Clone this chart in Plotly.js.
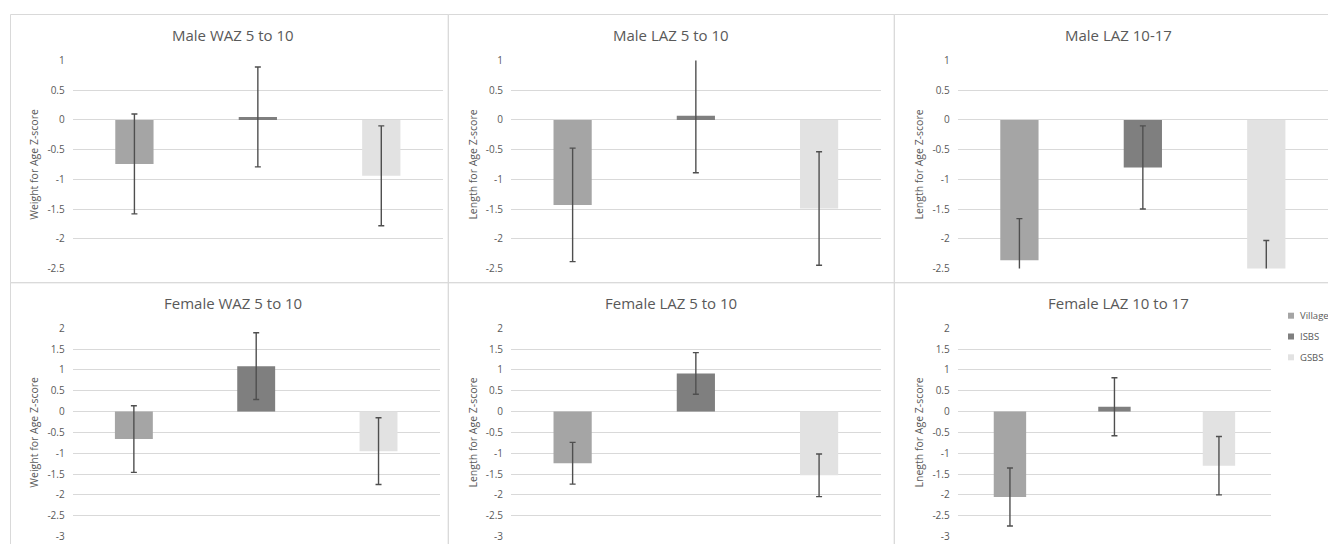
<!DOCTYPE html>
<html>
<head>
<meta charset="utf-8">
<script src="https://cdn.plot.ly/plotly-3.0.1.min.js"></script>
<style>
  html, body { margin: 0; padding: 0; background: #ffffff; }
  #chart { width: 1328px; height: 544px; }
</style>
</head>
<body>
<div id="chart"></div>
<script>
// Groups shown in every panel
const categories = ['Village', 'ISBS', 'GSBS'];
const groupColors = ['#a5a5a5', '#7f7f7f', '#e2e2e2'];

// Panel headings and y-axis titles (row by row)
const panelTitles = ['Male WAZ 5 to 10', 'Male LAZ 5 to 10', 'Male LAZ 10-17',
                     'Female WAZ 5 to 10', 'Female LAZ 5 to 10', 'Female LAZ 10 to 17'];
const yTitles = ['Weight for Age Z-score', 'Length for Age Z-score', 'Length for Age Z-score',
                 'Weight for Age Z-score', 'Length for Age Z-score', 'Lnegth for Age Z-score'];

// Mean z-scores and error half-widths per group
const maleWaz510 = [-0.74, 0.05, -0.94];
const maleWaz510Err = [0.84, 0.84, 0.84];
const maleLaz510 = [-1.43, 0.07, -1.49];
const maleLaz510Err = [0.955, 0.96, 0.955];
const maleLaz1017 = [-2.36, -0.80, -2.73];
const maleLaz1017Err = [0.70, 0.70, 0.70];
const femaleWaz510 = [-0.66, 1.09, -0.95];
const femaleWaz510Err = [0.80, 0.80, 0.80];
const femaleLaz510 = [-1.24, 0.915, -1.53];
const femaleLaz510Err = [0.50, 0.50, 0.51];
const femaleLaz1017 = [-2.05, 0.115, -1.30];
const femaleLaz1017Err = [0.695, 0.695, 0.70];

// Y-axis tick labels
const maleTickVals = [1, 0.5, 0, -0.5, -1, -1.5, -2, -2.5];
const maleTickText = ['1', '0.5', '0', '-0.5', '-1', '-1.5', '-2', '-2.5'];
const femaleTickVals = [2, 1.5, 1, 0.5, 0, -0.5, -1, -1.5, -2, -2.5, -3];
const femaleTickText = ['2', '1.5', '1', '0.5', '0', '-0.5', '-1', '-1.5', '-2', '-2.5', '-3'];

const W = 1328, H = 544;
const px = v => v / W;
const py = v => 1 - v / H;

const textColor = '#595959';
const gridColor = '#d9d9d9';
const font = 'Open Sans, Noto Sans, sans-serif';

// Plot boxes [left, right, top, bottom] in pixels, and chart-area frames
const plotBoxes = [
  [72.7, 443.0, 60.5, 268.5],
  [511.0, 880.7, 60.5, 268.5],
  [957.7, 1328.0, 60.5, 268.5],
  [72.7, 439.7, 328.2, 536.6],
  [511.0, 880.7, 328.2, 536.6],
  [957.7, 1271.2, 328.2, 536.6]
];
const frames = [
  [10.5, 448.3, 14.5, 282.7],
  [448.3, 894.3, 14.5, 282.7],
  [894.3, 1342, 14.5, 282.7],
  [10.5, 448.3, 282.7, 560],
  [448.3, 894.3, 282.7, 560],
  [894.3, 1342, 282.7, 560]
];
const titleCenters = [233, 671, 1118, 233, 671, 1118];
const titleY = [34.7, 34.7, 34.7, 303, 303, 303];

const panels = [
  { y: maleWaz510, err: maleWaz510Err, range: [-2.5, 1], tv: maleTickVals, tt: maleTickText },
  { y: maleLaz510, err: maleLaz510Err, range: [-2.5, 1], tv: maleTickVals, tt: maleTickText },
  { y: maleLaz1017, err: maleLaz1017Err, range: [-2.5, 1], tv: maleTickVals, tt: maleTickText },
  { y: femaleWaz510, err: femaleWaz510Err, range: [-3, 2], tv: femaleTickVals, tt: femaleTickText },
  { y: femaleLaz510, err: femaleLaz510Err, range: [-3, 2], tv: femaleTickVals, tt: femaleTickText },
  { y: femaleLaz1017, err: femaleLaz1017Err, range: [-3, 2], tv: femaleTickVals, tt: femaleTickText }
];

const data = [];
const layout = {
  width: W, height: H,
  margin: { l: 0, r: 0, t: 0, b: 0 },
  paper_bgcolor: '#ffffff',
  plot_bgcolor: '#ffffff',
  showlegend: false,
  bargap: 0.69,
  font: { family: font, color: textColor, size: 10 },
  shapes: [],
  annotations: []
};

panels.forEach((p, i) => {
  const n = i + 1;
  const xa = n === 1 ? 'x' : 'x' + n;
  const ya = n === 1 ? 'y' : 'y' + n;
  const box = plotBoxes[i];

  data.push({
    type: 'bar',
    x: categories,
    y: p.y,
    xaxis: xa,
    yaxis: ya,
    marker: { color: groupColors, line: { width: 0 } },
    error_y: { type: 'data', array: p.err, visible: true, color: '#4f4f4f', thickness: 1.4, width: 3 },
    hoverinfo: 'x+y'
  });

  layout['xaxis' + (n === 1 ? '' : n)] = {
    domain: [px(box[0]), px(box[1])],
    anchor: ya,
    type: 'category',
    range: [-0.5, 2.5],
    showticklabels: false,
    showgrid: false,
    zeroline: false,
    showline: false,
    ticks: ''
  };
  layout['yaxis' + (n === 1 ? '' : n)] = {
    domain: [py(box[3]), py(box[2])],
    anchor: xa,
    range: p.range,
    tickmode: 'array',
    tickvals: p.tv,
    ticktext: p.tt,
    showgrid: true,
    gridcolor: gridColor,
    gridwidth: 1,
    zeroline: true,
    zerolinecolor: gridColor,
    zerolinewidth: 1,
    showline: false,
    ticks: '',
    ticklabelstandoff: 7,
    tickfont: { size: 10, color: textColor, family: font },
    title: { text: yTitles[i], font: { size: 10.5, color: textColor, family: font }, standoff: 6 }
  };

  const f = frames[i];
  layout.shapes.push({
    type: 'rect', xref: 'paper', yref: 'paper',
    x0: px(f[0]), x1: px(f[1]), y0: py(f[3]), y1: py(f[2]),
    line: { color: gridColor, width: 1 }, fillcolor: 'rgba(0,0,0,0)', layer: 'below'
  });

  layout.annotations.push({
    xref: 'paper', yref: 'paper',
    x: px(titleCenters[i]), y: py(titleY[i]),
    xanchor: 'center', yanchor: 'middle',
    text: panelTitles[i], showarrow: false,
    font: { size: 15, color: textColor, family: font }
  });
});

// Group key beside the last panel
const keyX = 1291, keyY0 = 315.7, keyStep = 20.8, keySize = 6;
categories.forEach((c, k) => {
  const cy = keyY0 + k * keyStep;
  layout.shapes.push({
    type: 'rect', xref: 'paper', yref: 'paper',
    x0: px(keyX - keySize / 2), x1: px(keyX + keySize / 2),
    y0: py(cy + keySize / 2), y1: py(cy - keySize / 2),
    line: { width: 0 }, fillcolor: groupColors[k]
  });
  layout.annotations.push({
    xref: 'paper', yref: 'paper',
    x: px(keyX + 6.5), y: py(cy),
    xanchor: 'left', yanchor: 'middle',
    text: c, showarrow: false,
    font: { size: 9.5, color: textColor, family: font }
  });
});

Plotly.newPlot('chart', data, layout, { displayModeBar: false, staticPlot: true });
</script>
</body>
</html>
